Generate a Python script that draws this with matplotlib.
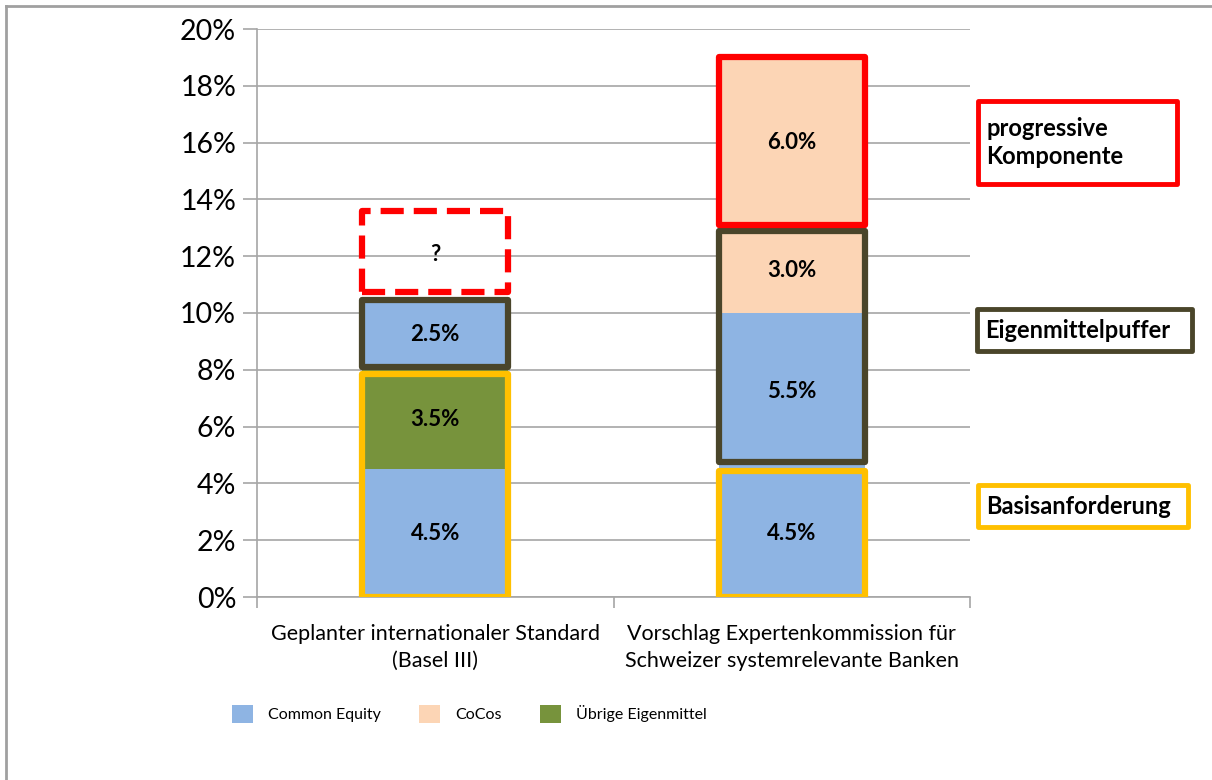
import matplotlib.pyplot as plt
from matplotlib.patches import Rectangle, Patch
from matplotlib.lines import Line2D

plt.rcParams['font.family'] = ['Lato', 'DejaVu Sans']

categories = ['Geplanter internationaler Standard\n(Basel III)',
              'Vorschlag Expertenkommission für\nSchweizer systemrelevante Banken']

# stacked segments per bar: (bar index, value, series)
seg_bar = [0, 0, 0, 1, 1, 1, 1]
seg_val = [4.5, 3.5, 2.5, 4.5, 5.5, 3.0, 6.0]
seg_series = ['Common Equity', 'Übrige Eigenmittel', 'Common Equity',
              'Common Equity', 'Common Equity', 'CoCos', 'CoCos']

series_names = ['Common Equity', 'CoCos', 'Übrige Eigenmittel']
series_colors = {'Common Equity': '#8EB4E3', 'CoCos': '#FCD5B5', 'Übrige Eigenmittel': '#77933C'}

# outline frames: (bar index, bottom, top, colour, style)
frame_bar = [0, 0, 0, 1, 1, 1]
frame_lo = [0.0, 8.1, 10.75, 0.0, 4.75, 13.1]
frame_hi = [7.85, 10.45, 13.6, 4.45, 12.9, 19.0]
frame_col = ['#FFC000', '#4A452A', '#FF0000', '#FFC000', '#4A452A', '#FF0000']
frame_ls = ['-', '-', '--', '-', '-', '-']

yticks = [0, 2, 4, 6, 8, 10, 12, 14, 16, 18, 20]

fig = plt.figure(figsize=(12.12, 7.8), dpi=100)
ax = fig.add_axes([257 / 1212, 1 - 597 / 780, 713 / 1212, 568 / 780])

width = 0.41
bottoms = [0.0, 0.0]
for b, v, s in zip(seg_bar, seg_val, seg_series):
    ax.bar(b, v, width, bottom=bottoms[b], color=series_colors[s], zorder=2)
    ax.text(b, bottoms[b] + v / 2, f'{v:.1f}%', ha='center', va='center',
            fontsize=16, fontweight='bold', zorder=5)
    bottoms[b] += v

for b, lo, hi, c, ls in zip(frame_bar, frame_lo, frame_hi, frame_col, frame_ls):
    ax.add_patch(Rectangle((b - width / 2, lo), width, hi - lo, fill=False,
                           edgecolor=c, linewidth=4.5, linestyle=ls,
                           joinstyle='round', zorder=4))
# question mark in the dashed frame
ax.text(0, (frame_lo[2] + frame_hi[2]) / 2 - 0.1, '?', ha='center', va='center',
        fontsize=16, fontweight='bold', zorder=5)

ax.set_xlim(-0.5, 1.5)
ax.set_ylim(0, 20)
ax.set_yticks(yticks)
ax.set_yticklabels([f'{t}%' for t in yticks], fontsize=20.5)
ax.yaxis.grid(True, color='#A6A6A6', linewidth=1.2, zorder=0)
ax.set_axisbelow(True)
ax.tick_params(axis='y', length=10, width=1.2, color='#A6A6A6', pad=5)
ax.set_xticks([-0.5, 0.5, 1.5])
ax.set_xticklabels([])
ax.tick_params(axis='x', length=8, width=1.2, color='#A6A6A6', direction='out')
for i, c in enumerate(categories):
    ax.text(i, -0.95, c, ha='center', va='top', fontsize=15.5, linespacing=1.45)
for side in ['top', 'right']:
    ax.spines[side].set_visible(False)
for side in ['left', 'bottom']:
    ax.spines[side].set_color('#A6A6A6')
    ax.spines[side].set_linewidth(1.2)

# frame labels on the right
notes = ['progressive\nKomponente', 'Eigenmittelpuffer', 'Basisanforderung']
note_boxes = [(978, 101, 1177, 184), (977, 309, 1192, 351), (978, 485, 1188, 527)]
note_cols = ['#FF0000', '#4A452A', '#FFC000']
for txt, (x0, y0, x1, y1), c in zip(notes, note_boxes, note_cols):
    fig.patches.append(Rectangle((x0 / 1212, 1 - y1 / 780), (x1 - x0) / 1212, (y1 - y0) / 780,
                                 transform=fig.transFigure, fill=False, edgecolor=c,
                                 linewidth=3.5, joinstyle='round'))
    fig.text((x0 + 8) / 1212, 1 - (y0 + y1) / 2 / 780, txt, ha='left', va='center',
             fontsize=17, fontweight='bold', linespacing=1.25)

handles = [Patch(facecolor=series_colors[s], edgecolor='none') for s in series_names]
fig.legend(handles, series_names, loc='center', bbox_to_anchor=(469 / 1212, 1 - 714 / 780),
           ncol=3, frameon=False, fontsize=11.5, handlelength=1.35, handleheight=1.35,
           columnspacing=2.4, handletextpad=0.9)

# outer chart border (left and top)
fig.add_artist(Line2D([6 / 1212, 6 / 1212], [0, 1 - 6 / 780], transform=fig.transFigure,
                      color='#A0A0A0', linewidth=2))
fig.add_artist(Line2D([6 / 1212, 1], [1 - 6 / 780, 1 - 6 / 780], transform=fig.transFigure,
                      color='#A0A0A0', linewidth=2))

fig.savefig('out.png', dpi=100)
